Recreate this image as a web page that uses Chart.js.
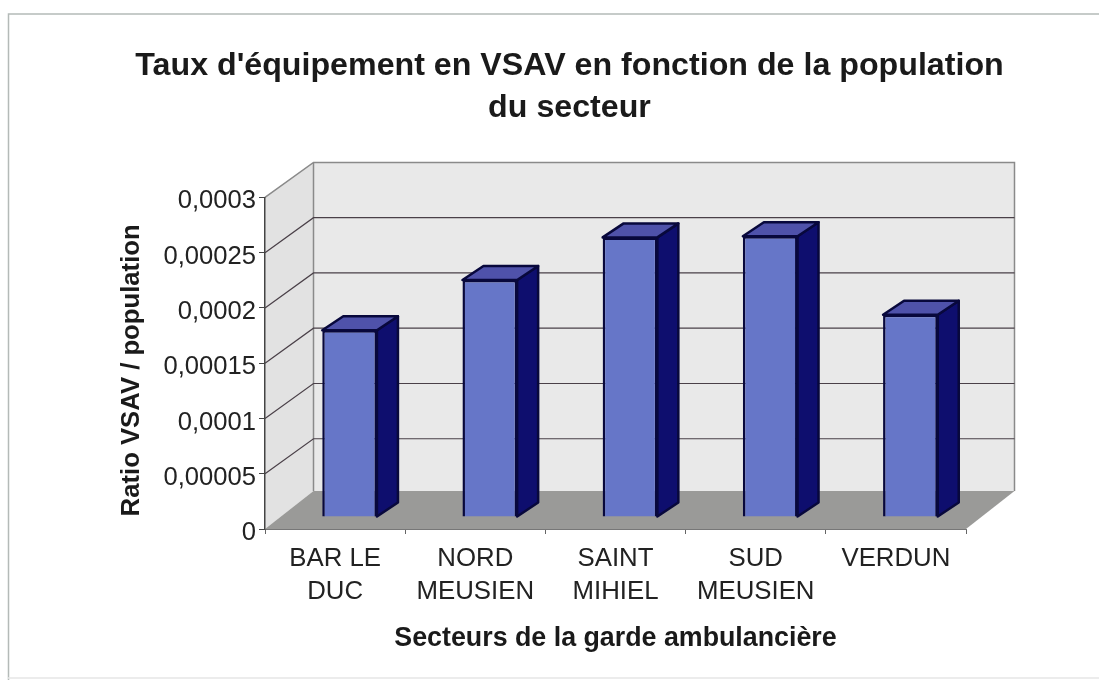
<!DOCTYPE html>
<html><head><meta charset="utf-8">
<style>html,body{margin:0;padding:0;background:#fff;overflow:hidden}canvas{display:block;filter:blur(0.4px)}</style>
<script src="https://cdn.jsdelivr.net/npm/chart.js@4"></script>
</head><body>
<div style="width:1099px;height:681px"><canvas id="c" width="1099" height="681"></canvas></div>
<script>
const titleLines = ["Taux d'équipement en VSAV en fonction de la population", "du secteur"];
const xTitle = "Secteurs de la garde ambulancière";
const yTitle = "Ratio VSAV / population";
const categories = [["BAR LE","DUC"],["NORD","MEUSIEN"],["SAINT","MIHIEL"],["SUD","MEUSIEN"],["VERDUN"]];
const ratios = [0.000169, 0.0002145, 0.000253, 0.000254, 0.000183];
const tickLabels = ["0","0,00005","0,0001","0,00015","0,0002","0,00025","0,0003"];
const tickStep = 0.00005;

const FONT = "'Liberation Sans', Arial, sans-serif";
const DEPTH = {dx:48.5, dyTop:-35, dyFloor:-38};
const BAR = {shiftX:14.5, shiftY:-12, dx:21, dy:-14};

const threeD = {
  id:'threeD',
  beforeDraw(ch){
    const {ctx, chartArea:a, scales:{y}} = ch;
    ctx.save();
    ctx.fillStyle='#fff'; ctx.fillRect(0,0,ch.width,ch.height);
    ctx.strokeStyle='#b4bab8'; ctx.lineWidth=1.5;
    ctx.beginPath(); ctx.moveTo(8.5,680); ctx.lineTo(8.5,14); ctx.lineTo(1099,14); ctx.stroke();
    ctx.strokeStyle='#e6e6e6'; ctx.lineWidth=1.5;
    ctx.beginPath(); ctx.moveTo(8,678); ctx.lineTo(1099,678); ctx.stroke();
    const L=a.left,R=a.right,T=a.top,B=a.bottom,dx=DEPTH.dx,dt=DEPTH.dyTop,df=DEPTH.dyFloor;
    ctx.fillStyle='#e9e9e9';
    ctx.fillRect(L+dx,T+dt,R-L,(B+df)-(T+dt));
    ctx.fillStyle='#e2e2e2';
    ctx.beginPath();ctx.moveTo(L,B);ctx.lineTo(L,T);ctx.lineTo(L+dx,T+dt);ctx.lineTo(L+dx,B+df);ctx.closePath();ctx.fill();
    ctx.fillStyle='#9a9a98';
    ctx.beginPath();ctx.moveTo(L,B);ctx.lineTo(R,B);ctx.lineTo(R+dx,B+df);ctx.lineTo(L+dx,B+df);ctx.closePath();ctx.fill();
    ctx.strokeStyle='#8a8a8a';ctx.lineWidth=1.5;
    ctx.beginPath();
    ctx.moveTo(L,T);ctx.lineTo(L+dx,T+dt);ctx.lineTo(R+dx,T+dt);ctx.lineTo(R+dx,B+df);
    ctx.moveTo(L+dx,T+dt);ctx.lineTo(L+dx,B+df);
    ctx.stroke();
    for(let i=1;i<tickLabels.length-1;i++){
      const p=y.getPixelForValue(i*tickStep);
      ctx.strokeStyle='#4a4048';ctx.lineWidth=1.2;
      ctx.beginPath();ctx.moveTo(L,p);ctx.lineTo(L+dx,p+dt);ctx.lineTo(R+dx,p+dt);ctx.stroke();
    }
    ctx.restore();
  },
  beforeDatasetDraw(ch){
    ch.ctx.save();
    ch.ctx.translate(BAR.shiftX,BAR.shiftY);
  },
  afterDatasetDraw(ch,args){
    const ctx=ch.ctx;
    ch.getDatasetMeta(args.index).data.forEach(el=>{
      const {x,y,width,base}=el.getProps(['x','y','width','base'],true);
      const l=x-width/2,r=x+width/2;
      ctx.lineWidth=2.5;ctx.strokeStyle='#08083c';ctx.lineJoin='round';
      ctx.fillStyle='#0e0e6e';
      ctx.beginPath();ctx.moveTo(r,base);ctx.lineTo(r+BAR.dx,base+BAR.dy);ctx.lineTo(r+BAR.dx,y+BAR.dy);ctx.lineTo(r,y);ctx.closePath();ctx.fill();ctx.stroke();
      ctx.fillStyle='#4f52aa';
      ctx.beginPath();ctx.moveTo(l,y);ctx.lineTo(l+BAR.dx,y+BAR.dy);ctx.lineTo(r+BAR.dx,y+BAR.dy);ctx.lineTo(r,y);ctx.closePath();ctx.fill();ctx.stroke();
    });
    ctx.restore();
  }
};

new Chart(document.getElementById('c'),{
  type:'bar',
  data:{labels:categories,datasets:[{
    data:ratios,backgroundColor:'#6676c8',borderColor:'#08083c',borderWidth:2.5,
    barPercentage:0.39,categoryPercentage:1,clip:false
  }]},
  plugins:[threeD],
  options:{
    responsive:false,animation:false,
    layout:{autoPadding:false,padding:{left:40,right:0,top:0,bottom:0}},
    plugins:{
      legend:{display:false},tooltip:{enabled:false},
      title:{display:true,text:titleLines,color:'#1a1a1a',
        font:{family:FONT,size:32.2,weight:'bold',lineHeight:1.28},
        padding:{top:46,bottom:69}}
    },
    scales:{
      x:{
        grid:{drawOnChartArea:false,color:'#666',tickLength:5},
        border:{color:'#777',width:1},
        ticks:{color:'#222',font:{family:FONT,size:25.8,lineHeight:1.28},padding:8,maxRotation:0,autoSkip:false},
        title:{display:true,text:xTitle,color:'#1a1a1a',font:{family:FONT,size:26.8,weight:'bold'},padding:{top:0,bottom:26}},
        afterFit(s){s.height=152;}
      },
      y:{
        min:0,max:tickStep*(tickLabels.length-1),
        grid:{drawOnChartArea:false,color:'#444',tickLength:6},
        border:{color:'#444',width:1.5},
        ticks:{color:'#222',stepSize:tickStep,font:{family:FONT,size:25.6},padding:3,labelOffset:4,
          callback:(v,i)=>tickLabels[i]},
        title:{display:true,text:yTitle+"  ",color:'#1a1a1a',font:{family:FONT,size:25.7,weight:'bold'},padding:{top:76,bottom:0}},
        afterFit(s){s.width=225;}
      },
      spacer:{
        axis:'y',position:'right',display:true,min:0,max:1,
        grid:{display:false},border:{display:false},ticks:{display:false},
        afterFit(s){s.width=133;}
      }
    }
  }
});
</script>
</body></html>
